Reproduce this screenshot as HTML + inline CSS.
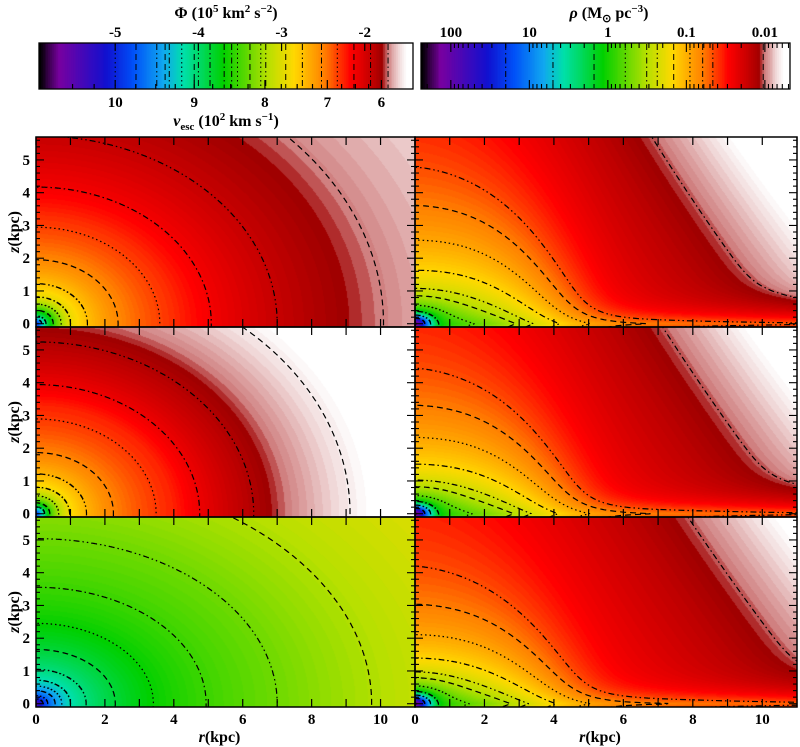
<!DOCTYPE html>
<html><head><meta charset="utf-8"><title>Potential and density maps</title>
<style>
body{margin:0;width:800px;height:747px;background:#fff;position:relative;overflow:hidden;font-family:"Liberation Serif",serif;}
canvas{position:absolute;display:block;}
svg{position:absolute;left:0;top:0;}
</style></head>
<body>
<canvas id="cbPhi" width="374" height="46" style="left:39px;top:43px"></canvas>
<canvas id="cbRho" width="369" height="46" style="left:421px;top:43px"></canvas>
<canvas id="p0"></canvas>
<canvas id="p1"></canvas>
<canvas id="p2"></canvas>
<canvas id="d0"></canvas>
<canvas id="d1"></canvas>
<canvas id="d2"></canvas>
<svg id="ov" width="800" height="747"></svg>
<script>
// ---- data ----
const phiS = [0, 0.1, 0.25, 0.5, 1, 2, 4, 7, 11, 14];
const phiTop = [-5.1, -4.7, -4.1, -3.6, -2.95, -2.6, -2.28, -1.93, -1.67, -1.57];
const phiMid = [-5.1, -4.6, -4.0, -3.4, -2.88, -2.55, -2.25, -1.76, -1.4, -1.3];
const phiBot = [-5.6, -5.3, -4.9, -4.55, -4.2, -3.92, -3.62, -3.38, -3.12, -3.0];
const phiQ = [0.82, 0.83, 0.72];
const phiLevelsTop = [-4.4, -4.0, -3.6, -3.25, -2.95, -2.75, -2.52, -2.33, -2.13, -1.93, -1.72];
const phiLevelsMid = [-4.0, -3.6, -3.2, -2.9, -2.7, -2.5, -2.31, -2.1, -1.85, -1.55];
const phiLevelsBot = [-5.0, -4.75, -4.5, -4.35, -4.2, -4.05, -3.86, -3.69, -3.53, -3.38, -3.19];
const envAmp = [0.045, 0.045, 0.047];
const envRe0 = [8.2, 8.5, 9.0];
const thickAmp = [0.22, 0.20, 0.17];
const thickH = [1.7, 1.6, 1.5];
const thinAmp = [0.5, 0.5, 0.5];
const diskAmp = [0.04, 0.04, 0.04];
const rhoLevels = [0.0105, 0.046, 0.062, 0.09, 0.145, 0.235, 0.32, 0.6, 1.5, 5, 20];
const phiTicks = [-5, -4, -3, -2];
const vescTicks = [10, 9, 8, 7, 6];
const rhoTicks = [100, 10, 1, 0.1, 0.01];
const rTicks = [0, 2, 4, 6, 8, 10];
const zTicks = [0, 1, 2, 3, 4, 5];

// ---- geometry ----
const PHIMIN = -5.916, PHIMAX = -1.42, LMAX = 2.38, LMIN = -2.32;
const colX = [36, 415], colW = [379, 382];
const rowY = [137, 327, 517], rowH = 190;
const RMAX = 11, ZMIN = -0.1, ZMAX = 5.7;

const stopsT = [0, .051, .178, .25, .33, .385, .49, .61, .68, .76, .83, .89, .915, .93, .96, .978, 1];
const stopsC = ["#000000","#7800a0","#1010d0","#0050f8","#10a8f0","#00e0a8","#00d000","#b8e000","#ffd800","#ff8000","#ff0000","#c00000","#a00000","#d08080","#f0d8d8","#ffffff","#ffffff"].map(h=>[parseInt(h.substr(1,2),16),parseInt(h.substr(3,2),16),parseInt(h.substr(5,2),16)]);
function cmap(t){
  t = Math.max(0, Math.min(1, t)); t = Math.floor(t*200)/200;
  for (let i=1;i<stopsT.length;i++){ if (t<=stopsT[i]){ const f=(t-stopsT[i-1])/(stopsT[i]-stopsT[i-1]); const a=stopsC[i-1], b=stopsC[i]; return [a[0]+(b[0]-a[0])*f, a[1]+(b[1]-a[1])*f, a[2]+(b[2]-a[2])*f]; } }
  return stopsC[stopsC.length-1];
}
const phiVals = [phiTop, phiMid, phiBot];
const phiLevels = [phiLevelsTop, phiLevelsMid, phiLevelsBot];
function interpLn(xs, ys, s){
  const u = Math.log(s+0.1);
  for (let i=1;i<xs.length;i++){ const u0=Math.log(xs[i-1]+0.1), u1=Math.log(xs[i]+0.1); if (u<=u1){ const f=(u-u0)/(u1-u0); return ys[i-1]+(ys[i]-ys[i-1])*f; } }
  const n=xs.length; const u0=Math.log(xs[n-2]+0.1), u1=Math.log(xs[n-1]+0.1);
  return ys[n-1]+(ys[n-1]-ys[n-2])*(u-u1)/(u1-u0);
}
function phiField(p, r, z){ const s=Math.sqrt(r*r+(z/phiQ[p])**2); return interpLn(phiS, phiVals[p], s); }
function rhoField(p, r, z){
  z = Math.abs(z);
  const s = Math.sqrt(r*r + z*z/0.36);
  const Re = envRe0[p] - 0.3*z;
  const env = envAmp[p]*Math.exp(-z/15)*Math.exp(-Math.pow(r/Re,1.5));
  const thick = thickAmp[p]*Math.exp(-z/thickH[p])*Math.exp(-Math.pow(r/3.6,2.8));
  const thin = thinAmp[p]*Math.exp(-z/0.5)*Math.exp(-(r/2.4)*(r/2.4));
  const disk = diskAmp[p]*Math.exp(-z/0.27);
  const bulge = 300*Math.exp(-s/0.1) + 3*Math.exp(-s/0.35);
  return env+thick+thin+disk+bulge;
}
const tPhi = v => (v-PHIMIN)/(PHIMAX-PHIMIN);
const tRho = v => (LMAX-Math.log10(v))/(LMAX-LMIN);

// ---- colorbars ----
function drawBar(id, w){
  const c=document.getElementById(id), g=c.getContext('2d'); const im=g.createImageData(w,46);
  for (let x=0;x<w;x++){ const col=cmap((x+0.5)/w); for(let y=0;y<46;y++){ const k=(y*w+x)*4; im.data[k]=col[0];im.data[k+1]=col[1];im.data[k+2]=col[2];im.data[k+3]=255; } }
  g.putImageData(im,0,0);
}
drawBar('cbPhi',374); drawBar('cbRho',369);

// ---- panels ----
function drawPanel(id, col, row, fn, tf){
  const c=document.getElementById(id); const w=colW[col], h=rowH;
  c.width=w; c.height=h; c.style.left=colX[col]+'px'; c.style.top=rowY[row]+'px';
  const g=c.getContext('2d'); const im=g.createImageData(w,h);
  for (let y=0;y<h;y++){ const z=ZMAX-(y+0.5)/h*(ZMAX-ZMIN);
    for (let x=0;x<w;x++){ const r=(x+0.5)/w*RMAX; const col2=cmap(tf(fn(r,z))); const k=(y*w+x)*4;
      im.data[k]=col2[0];im.data[k+1]=col2[1];im.data[k+2]=col2[2];im.data[k+3]=255; } }
  g.putImageData(im,0,0);
}
for (let p=0;p<3;p++){
  drawPanel('p'+p,0,p,(r,z)=>phiField(p,r,z),tPhi);
  drawPanel('d'+p,1,p,(r,z)=>rhoField(p,r,z),tRho);
}

// ---- overlay ----
const NS='http://www.w3.org/2000/svg', ov=document.getElementById('ov');
function el(tag, attrs, parent){ const e=document.createElementNS(NS,tag); for(const k in attrs) e.setAttribute(k,attrs[k]); (parent||ov).appendChild(e); return e; }
const dashes = ["6,4","6,3,1.5,3,1.5,3","6,3,1.5,3","1.5,3"];
const defs = el('defs',{});
function px(col,r){ return colX[col]+r/RMAX*colW[col]; }
function py(row,z){ return rowY[row]+rowH-(z-ZMIN)/(ZMAX-ZMIN)*rowH; }

function contours(col,row,fn,levels,decreasing,name){
  const cid='clip'+col+row;
  const cp=el('clipPath',{id:cid},defs); el('rect',{x:colX[col],y:rowY[row],width:colW[col],height:rowH},cp);
  const grp=el('g',{'clip-path':'url(#'+cid+')'});
  
  
  levels.forEach((lv,li)=>{
    let d='', pen=false;
    const N=900, TM=13.5;
    for (let i=0;i<=N;i++){
      const th=(-2+92*i/N)*Math.PI/180, cx=Math.cos(th), cz=Math.sin(th);
      const f=t=>{ const v=fn(t*cx,t*cz); return decreasing ? v-lv : lv-v; };
      let t0=0.002, f0=f(t0), found=-1;
      if (f0>0){ const M=160; for(let k=1;k<=M;k++){ const t1=0.002+TM*k/M; const f1=f(t1); if(f1<=0){ let a=t0,b=t1; for(let j=0;j<25;j++){ const m=(a+b)/2; if(f(m)>0) a=m; else b=m; } found=(a+b)/2; break;} t0=t1; } }
      if (found>0){ const X=px(col,found*cx), Y=py(row,found*cz); d+=(pen?'L':'M')+X.toFixed(1)+' '+Y.toFixed(1); pen=true; } else pen=false;
    }
    const path=el('path',{d:d,fill:'none',stroke:'#000','stroke-width':1.2,'stroke-dasharray':dashes[(levels.length-1-li)%4]},grp);
    
    
  });
}
for (let p=0;p<3;p++){
  contours(0,p,(r,z)=>phiField(p,r,z),phiLevels[p],false,'potential-'+['top','middle','bottom'][p]);
  contours(1,p,(r,z)=>rhoField(p,r,z),rhoLevels,true,'density-'+['top','middle','bottom'][p]);
}

// axes: borders and ticks
for (let col=0;col<2;col++) for (let row=0;row<3;row++){
  const x0=colX[col], w=colW[col], y0=rowY[row];
  for (let r=0;r<=11;r++){ const X=px(col,r); el('line',{x1:X,x2:X,y1:y0+rowH,y2:y0+rowH-8,stroke:'#000','stroke-width':1.2}); el('line',{x1:X,x2:X,y1:y0,y2:y0+8,stroke:'#000','stroke-width':1.2}); }
  for (let k=0;k<=28;k++){ const z=k*0.2; const Y=py(row,z); const L=(k%5===0)?8:4;
    el('line',{x1:x0,x2:x0+L,y1:Y,y2:Y,stroke:'#000','stroke-width':1.1}); el('line',{x1:x0+w,x2:x0+w-L,y1:Y,y2:Y,stroke:'#000','stroke-width':1.1}); }
  const b=el('rect',{x:x0,y:y0,width:w,height:rowH,fill:'none',stroke:'#000','stroke-width':1.5});
  
  
}
// z labels
for (let row=0;row<3;row++){
  zTicks.forEach(z=>{ const t=el('text',{x:30,y:py(row,z)+5,'text-anchor':'end','font-size':15,'font-weight':'bold'}); t.textContent=z;
    
     });
  const yl=el('text',{x:0,y:0,transform:'translate(19,'+(rowY[row]+rowH/2)+') rotate(-90)','text-anchor':'middle','font-size':16,'font-weight':'bold'});
  yl.innerHTML='<tspan font-style="italic">z</tspan>(kpc)';
  
  
}
for (let col=0;col<2;col++){
  rTicks.forEach(r=>{ const t=el('text',{x:px(col,r),y:724,'text-anchor':'middle','font-size':15,'font-weight':'bold'}); t.textContent=r;
    
     });
  const xl=el('text',{x:colX[col]+colW[col]/2-6,y:742,'text-anchor':'middle','font-size':16,'font-weight':'bold'});
  xl.innerHTML='<tspan font-style="italic">r</tspan>(kpc)';
  
  
}
// colorbar frames, ticks, labels
const phiX = v => 39+tPhi(v)*374;
const rhoX = v => 421+tRho(v)*369;
el('rect',{x:39,y:43,width:374,height:46,fill:'none',stroke:'#000','stroke-width':1.3});
el('rect',{x:421,y:43,width:369,height:46,fill:'none',stroke:'#000','stroke-width':1.3});
phiLevelsTop.concat(phiLevelsBot).forEach((v,i)=>{ const X=phiX(v); const ln=el('line',{x1:X,x2:X,y1:44,y2:88,stroke:'#000','stroke-width':1,'stroke-dasharray':dashes[i%4]});
  
   });
rhoLevels.forEach((v,i)=>{ const X=rhoX(v); const ln=el('line',{x1:X,x2:X,y1:44,y2:88,stroke:'#000','stroke-width':1,'stroke-dasharray':dashes[i%4]});
  
   });
phiTicks.forEach(v=>{ const X=phiX(v); el('line',{x1:X,x2:X,y1:43,y2:51,stroke:'#000','stroke-width':1.2});
  const t=el('text',{x:X,y:37,'text-anchor':'middle','font-size':15,'font-weight':'bold'}); t.textContent=String(v);
  
   });
for (let v=6; v<=10.51; v+=0.25){ const X=phiX(-v*v/20); const L=(Math.abs(v-Math.round(v))<0.01)?9:5; el('line',{x1:X,x2:X,y1:89,y2:89-L,stroke:'#000','stroke-width':1.2}); }
vescTicks.forEach(v=>{ const X=phiX(-v*v/20); const t=el('text',{x:X,y:107,'text-anchor':'middle','font-size':15,'font-weight':'bold'}); t.textContent=v;
  
   });
rhoTicks.forEach(v=>{ const t=el('text',{x:rhoX(v),y:37,'text-anchor':'middle','font-size':15,'font-weight':'bold'}); t.textContent=String(v);
  
   });
for (let e=-3;e<=2;e++) for (let m=1;m<=9;m++){ const v=m*Math.pow(10,e); const X=rhoX(v); if(X<421||X>790) continue; const L=m===1?9:5;
  el('line',{x1:X,x2:X,y1:43,y2:43+L,stroke:'#000','stroke-width':1.1}); el('line',{x1:X,x2:X,y1:89,y2:89-L,stroke:'#000','stroke-width':1.1}); }
const t1=el('text',{x:226,y:18,'text-anchor':'middle','font-size':16,'font-weight':'bold'});
t1.innerHTML='Φ (10<tspan dy="-6" font-size="11">5</tspan><tspan dy="6"> km</tspan><tspan dy="-6" font-size="11">2</tspan><tspan dy="6"> s</tspan><tspan dy="-6" font-size="11">−2</tspan><tspan dy="6">)</tspan>';


const t2=el('text',{x:226,y:126,'text-anchor':'middle','font-size':16,'font-weight':'bold'});
t2.innerHTML='<tspan font-style="italic">v</tspan><tspan dy="4" font-size="11">esc</tspan><tspan dy="-4"> (10</tspan><tspan dy="-6" font-size="11">2</tspan><tspan dy="6"> km s</tspan><tspan dy="-6" font-size="11">−1</tspan><tspan dy="6">)</tspan>';


const t3=el('text',{x:609,y:18,'text-anchor':'middle','font-size':16,'font-weight':'bold'});
t3.innerHTML='<tspan font-style="italic">ρ</tspan> (M<tspan dy="4" font-size="11">⊙</tspan><tspan dy="-4"> pc</tspan><tspan dy="-6" font-size="11">−3</tspan><tspan dy="6">)</tspan>';


</script>
</body></html>
